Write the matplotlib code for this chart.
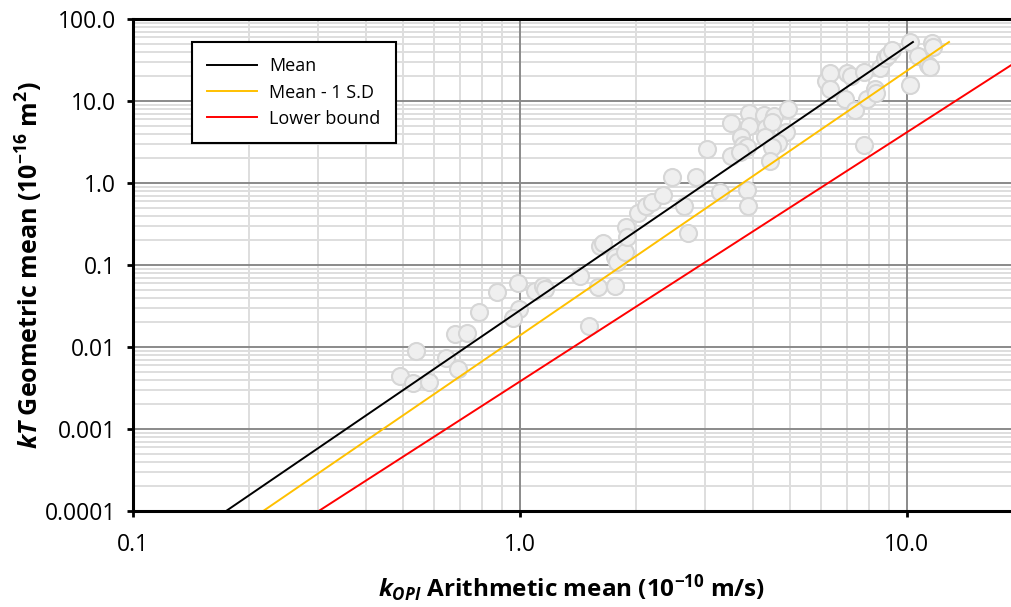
"""Permeability comparison: kT geometric mean vs kOPI arithmetic mean."""

import matplotlib
matplotlib.use("Agg")
import matplotlib.pyplot as plt

# measured points (kOPI, kT)
k_opi = [0.490, 0.529, 0.582, 0.539, 0.644, 0.691, 0.679, 0.730, 0.783, 0.872,
         0.988, 0.994, 0.959, 1.093, 1.147, 1.160, 1.429, 1.508, 1.591, 1.760,
         1.609, 1.638, 1.760, 1.781, 1.868, 1.879, 1.890, 2.018, 2.117, 2.193,
         2.342, 2.471, 2.850, 2.653, 2.718, 3.287, 3.042, 3.509, 3.906, 4.271,
         4.532, 4.925, 3.906, 4.322, 4.479, 4.867, 3.725, 4.296, 4.642, 4.479,
         3.769, 3.860, 3.509, 3.703, 4.426, 3.860, 3.883, 6.175, 6.324, 6.324,
         6.998, 7.168, 7.745, 6.915, 7.338, 7.882, 8.265, 8.315, 7.745, 8.516,
         8.775, 8.932, 9.148, 10.18, 10.68, 11.60, 11.67, 11.33, 11.47, 10.18]
k_t = [0.00443, 0.00364, 0.00374, 0.00894, 0.00734, 0.00539, 0.0144, 0.0148, 0.0267, 0.0469,
       0.0603, 0.0291, 0.0226, 0.0482, 0.0555, 0.0510, 0.0734, 0.0180, 0.0540, 0.0555,
       0.1705, 0.1854, 0.1252, 0.1088, 0.144, 0.2906, 0.2196, 0.4306, 0.524, 0.586,
       0.714, 1.184, 1.184, 0.524, 0.2455, 0.777, 2.597, 5.39, 7.14, 6.75,
       6.56, 7.99, 4.96, 4.69, 5.55, 4.19, 3.64, 3.64, 3.07, 2.75,
       2.91, 2.75, 2.135, 2.388, 1.855, 0.822, 0.524, 17.5, 21.96, 14.0,
       21.96, 20.2, 22.6, 10.6, 7.77, 10.6, 14.0, 12.5, 2.91, 25.3,
       33.5, 36.4, 41.9, 52.4, 35.4, 51.0, 45.6, 27.5, 26.0, 15.7]

# fitted relationships (end points)
mean_x = [0.174, 10.36]
mean_y = [0.0001, 52.4]
sd_x = [0.217, 12.84]
sd_y = [0.0001, 52.4]
lower_x = [0.302, 20.0]
lower_y = [0.0001, 34.2]

x_ticks = [0.1, 1.0, 10.0]
x_tick_labels = ["0.1", "1.0", "10.0"]
y_ticks = [0.0001, 0.001, 0.01, 0.1, 1.0, 10.0, 100.0]
y_tick_labels = ["0.0001", "0.001", "0.01", "0.1", "1.0", "10.0", "100.0"]

plt.rcParams["font.family"] = ["Open Sans", "DejaVu Sans"]
plt.rcParams["mathtext.fontset"] = "custom"
plt.rcParams["mathtext.rm"] = "Open Sans:bold"
plt.rcParams["mathtext.it"] = "Open Sans:bold:italic"
plt.rcParams["mathtext.bf"] = "Open Sans:bold"
plt.rcParams["axes.unicode_minus"] = False

fig = plt.figure(figsize=(10.11, 6.07), dpi=100)
ax = fig.add_axes([133 / 1011, 96 / 607, 878 / 1011, 492 / 607])

ax.set_xscale("log")
ax.set_yscale("log")
ax.set_xlim(0.1, 18.57)
ax.set_ylim(0.0001, 100)

# light minor grid from the axes, darker major lines drawn on top of it
ax.grid(True, which="minor", color="#dedede", lw=1.4)
ax.grid(False, which="major")
ax.set_axisbelow(True)
for xv in x_ticks:
    ax.axvline(xv, color="#8a8a8a", lw=1.4, zorder=1)
for yv in y_ticks:
    ax.axhline(yv, color="#8a8a8a", lw=1.4, zorder=1)

ax.scatter(k_opi, k_t, s=150, facecolor="#efefef", edgecolor="#d6d6d6",
           linewidth=1.5, zorder=2, clip_on=False)

ax.plot(mean_x, mean_y, color="black", lw=1.4, label="Mean", zorder=3)
ax.plot(sd_x, sd_y, color="#ffc000", lw=1.4, label="Mean - 1 S.D", zorder=3)
ax.plot(lower_x, lower_y, color="#ff0000", lw=1.4, label="Lower bound", zorder=3)

ax.set_xticks(x_ticks)
ax.set_xticklabels(x_tick_labels)
ax.set_yticks(y_ticks)
ax.set_yticklabels(y_tick_labels)
ax.tick_params(which="minor", length=0)
ax.tick_params(which="major", length=4, width=2, direction="out",
               labelsize=16.5, color="black", pad=8)
ax.tick_params(axis="x", pad=12)

for side in ["left", "bottom", "top"]:
    ax.spines[side].set_color("black")
    ax.spines[side].set_linewidth(2.2)
    ax.spines[side].set_zorder(4)
ax.spines["right"].set_visible(False)

ax.set_xlabel(r"$\mathit{k}_{\mathit{OPI}}$ Arithmetic mean (10$^{-10}$ m/s)",
              fontsize=17.5, fontweight="bold", labelpad=11)
ax.set_ylabel(r"$\mathit{kT}$ Geometric mean (10$^{-16}$ m$^{2}$)",
              fontsize=18, fontweight="bold", labelpad=0)

leg = ax.legend(loc="upper left", bbox_to_anchor=(0.067, 0.953), borderaxespad=0,
                fontsize=13, fancybox=False, framealpha=1, edgecolor="black",
                handlelength=2.75, handletextpad=0.7, labelspacing=0.45,
                borderpad=0.85)
leg.get_frame().set_linewidth(1.5)
leg.set_zorder(5)

fig.savefig("out.png", dpi=100)
